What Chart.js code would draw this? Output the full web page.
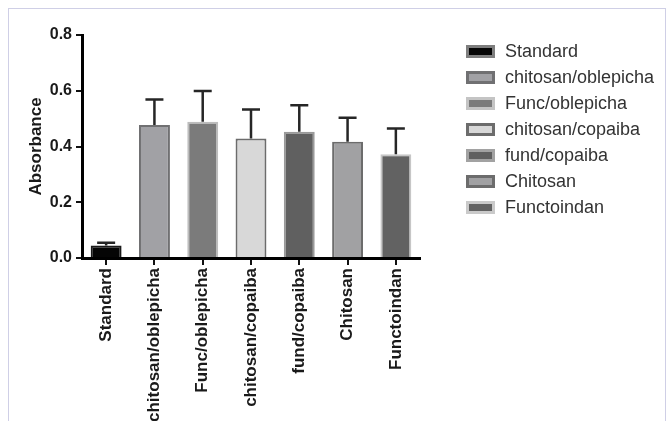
<!DOCTYPE html>
<html>
<head>
<meta charset="utf-8">
<script src="https://cdn.jsdelivr.net/npm/chart.js@4.4.1/dist/chart.umd.min.js"></script>
<style>
  html, body { margin: 0; padding: 0; background: #fff; width: 671px; height: 421px; overflow: hidden; }
  #frame { position: absolute; left: 8px; top: 8px; width: 656px; height: 440px;
           border: 1px solid #cfcfe6; border-bottom: none; }
  #plot { position: absolute; left: 0; top: 0; }
  #legend { position: absolute; left: 466px; top: 38px;
            font: 18px "Liberation Sans", Arial, sans-serif; color: #333; }
  .item { height: 26px; display: flex; align-items: center; white-space: nowrap; }
  .box { width: 29px; height: 13px; box-sizing: border-box; border: 3px solid; margin-right: 10px; }
</style>
</head>
<body>
<div id="frame"></div>
<canvas id="plot" width="671" height="421"></canvas>
<div id="legend"></div>
<script>
// Groups and measured absorbance (mean and upper error)
const categories = ['Standard', 'chitosan/oblepicha', 'Func/oblepicha', 'chitosan/copaiba', 'fund/copaiba', 'Chitosan', 'Functoindan'];
const absorbance = [0.045, 0.477, 0.489, 0.429, 0.453, 0.417, 0.372];
const errorUp    = [0.010, 0.092, 0.110, 0.104, 0.095, 0.086, 0.093];
const yTickLabels = ['0.0', '0.2', '0.4', '0.6', '0.8'];

const fillColors = ['#050505', '#a1a1a5', '#7b7b7b', '#d8d8d8', '#606060', '#a1a1a3', '#626262'];
const edgeColors = ['#1a1a1a', '#707072', '#bdbdbd', '#6c6c6c', '#9a9a9a', '#6c6c6c', '#c6c6c6'];
const legendEdges = ['#7e7e7e', '#707072', '#c4c4c4', '#6c6c6c', '#a2a2a2', '#6c6c6c', '#cacaca'];

const FONT = '"Liberation Sans", Arial, Helvetica, sans-serif';

// Upward error bars drawn on top of each bar
const errorBars = {
  id: 'errorBars',
  afterDatasetsDraw(chart) {
    const { ctx, scales: { y } } = chart;
    const meta = chart.getDatasetMeta(0);
    ctx.save();
    ctx.strokeStyle = '#262626';
    ctx.lineWidth = 2.5;
    meta.data.forEach((bar, i) => {
      const top = y.getPixelForValue(absorbance[i] + errorUp[i]);
      ctx.beginPath();
      ctx.moveTo(bar.x, bar.y);
      ctx.lineTo(bar.x, top);
      ctx.moveTo(bar.x - 9, top);
      ctx.lineTo(bar.x + 9, top);
      ctx.stroke();
    });
    ctx.restore();
  }
};

new Chart(document.getElementById('plot'), {
  type: 'bar',
  data: {
    labels: categories,
    datasets: [{
      label: 'Absorbance',
      data: absorbance,
      backgroundColor: fillColors,
      borderColor: edgeColors,
      borderWidth: 2,
      barPercentage: 0.64,
      categoryPercentage: 1
    }]
  },
  options: {
    responsive: false,
    animation: false,
    layout: { padding: { left: 22, top: 35, right: 251, bottom: 0 } },
    plugins: { legend: { display: false }, tooltip: { enabled: false } },
    scales: {
      x: {
        z: 1,
        grid: { display: true, offset: false, drawOnChartArea: false, drawTicks: true,
                tickLength: 7, color: '#111', lineWidth: 2 },
        border: { display: true, color: '#000', width: 3 },
        ticks: { autoSkip: false, maxRotation: 90, minRotation: 90, padding: 3,
                 color: '#1a1a1a', font: { family: FONT, size: 17, weight: 'bold' } },
        afterFit(scale) { scale.height = 163; }
      },
      y: {
        z: 1,
        min: 0, max: 0.8,
        ticks: { stepSize: 0.2, padding: 4, color: '#1a1a1a',
                 font: { family: FONT, size: 16, weight: 'bold' },
                 callback: (v, i) => yTickLabels[i] },
        grid: { display: true, drawOnChartArea: false, drawTicks: true,
                tickLength: 6, color: '#111', lineWidth: 2 },
        border: { display: true, color: '#000', width: 3 },
        title: { display: true, text: 'Absorbance', color: '#1a1a1a',
                 font: { family: FONT, size: 17, weight: 'bold' }, padding: { top: 4, bottom: 4 } },
        afterFit(scale) { scale.width = 60; }
      }
    }
  },
  plugins: [errorBars]
});

// Legend listing each group with its bar colour
const legend = document.getElementById('legend');
categories.forEach((name, i) => {
  const row = document.createElement('div');
  row.className = 'item';
  const box = document.createElement('span');
  box.className = 'box';
  box.style.background = fillColors[i];
  box.style.borderColor = legendEdges[i];
  const label = document.createElement('span');
  label.textContent = name;
  row.appendChild(box);
  row.appendChild(label);
  legend.appendChild(row);
});
</script>
</body>
</html>
